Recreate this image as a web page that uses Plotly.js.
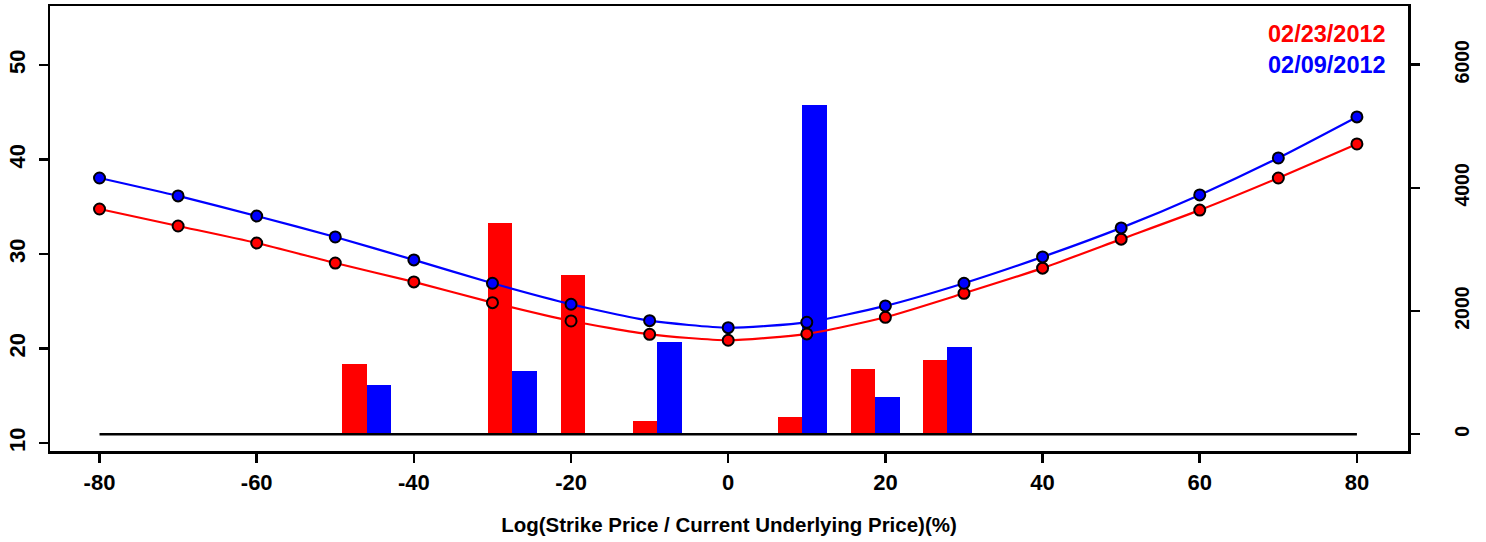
<!DOCTYPE html>
<html>
<head>
<meta charset="utf-8">
<script src="https://cdn.plot.ly/plotly-3.0.1.min.js"></script>
<style>html,body{margin:0;padding:0;background:#fff;}#chart{width:1486px;height:542px;}</style>
</head>
<body>
<div id="chart"></div>
<script>
// Implied volatility (%) by log-moneyness (%)
const strikes = [-80, -70, -60, -50, -40, -30, -20, -10, 0, 10, 20, 30, 40, 50, 60, 70, 80];
const iv0223 = [34.77, 32.97, 31.17, 29.05, 27.05, 24.86, 22.92, 21.51, 20.88, 21.55, 23.31, 25.85, 28.51, 31.58, 34.65, 38.05, 41.65];
const iv0209 = [38.05, 36.15, 34.03, 31.81, 29.38, 26.91, 24.69, 22.95, 22.21, 22.78, 24.51, 26.91, 29.70, 32.77, 36.26, 40.17, 44.51];
// Volume bars (right axis)
const volStrikes = [-46.0, -27.5, -18.2, -9.0, 9.4, 18.7, 27.9];
const vol0223 = [1139, 3431, 2582, 214, 279, 1058, 1204];
const vol0209 = [798, 1025, 0, 1495, 5340, 603, 1415];
const dateLabels = ['02/23/2012', '02/09/2012'];
const xTicks = [-80, -60, -40, -20, 0, 20, 40, 60, 80];
const yLeftTicks = [10, 20, 30, 40, 50];
const yRightTicks = [0, 2000, 4000, 6000];

const RED = '#ff0000', BLUE = '#0000ff';
const FONT = 'Liberation Sans, Arial, sans-serif';
const BW = 3.12;

const traces = [
  {type: 'bar', x: volStrikes, y: vol0223, yaxis: 'y', marker: {color: RED, line: {width: 0}},
   width: BW, offset: -BW, showlegend: false, hoverinfo: 'x+y'},
  {type: 'bar', x: volStrikes, y: vol0209, yaxis: 'y', marker: {color: BLUE, line: {width: 0}},
   width: BW, offset: 0, showlegend: false, hoverinfo: 'x+y'},
  {type: 'scatter', mode: 'lines', x: [strikes[0], strikes[strikes.length - 1]], y: [0, 0], yaxis: 'y',
   line: {color: '#000', width: 2.5}, showlegend: false, hoverinfo: 'skip'},
  {type: 'scatter', mode: 'lines+markers', x: strikes, y: iv0223, yaxis: 'y2', name: dateLabels[0],
   line: {color: RED, width: 2.2, shape: 'spline', smoothing: 0.6},
   marker: {color: RED, size: 11, line: {color: '#000', width: 2}}, showlegend: false},
  {type: 'scatter', mode: 'lines+markers', x: strikes, y: iv0209, yaxis: 'y2', name: dateLabels[1],
   line: {color: BLUE, width: 2.2, shape: 'spline', smoothing: 0.6},
   marker: {color: BLUE, size: 11, line: {color: '#000', width: 2}}, showlegend: false}
];

const axisCommon = {
  showgrid: false, zeroline: false, showline: true, linecolor: '#000', linewidth: 2.5,
  ticks: 'outside', ticklen: 9, tickwidth: 2.5, tickcolor: '#000',
  tickfont: {family: FONT, size: 22, color: '#000', weight: 'bold'}
};

const layout = {
  width: 1486, height: 542,
  margin: {l: 50, r: 78, t: 6, b: 91, pad: 0},
  paper_bgcolor: '#fff', plot_bgcolor: '#fff',
  barmode: 'overlay', bargap: 0,
  showlegend: false,
  xaxis: Object.assign({}, axisCommon, {
    range: [-86.3, 86.5], tickmode: 'array', tickvals: xTicks, ticktext: xTicks.map(String),
    mirror: true, ticklabelstandoff: 1,
    title: {text: 'Log(Strike Price / Current Underlying Price)(%)', standoff: 24,
            font: {family: FONT, size: 20.5, color: '#000', weight: 'bold'}}
  }),
  yaxis: Object.assign({}, axisCommon, {
    side: 'right', range: [-272, 6952], tickmode: 'array', tickvals: yRightTicks,
    ticktext: yRightTicks.map(String), tickangle: -90, ticklabelstandoff: 26,
    tickfont: {family: FONT, size: 19.5, color: '#000', weight: 'bold'}
  }),
  yaxis2: Object.assign({}, axisCommon, {
    side: 'left', overlaying: 'y', range: [9.16, 56.25], tickmode: 'array', tickvals: yLeftTicks,
    ticktext: yLeftTicks.map(String), tickangle: -90, ticklabelstandoff: 5
  }),
  annotations: [
    {xref: 'paper', yref: 'paper', x: 0.9855, y: 0.937, xanchor: 'right', yanchor: 'middle',
     text: dateLabels[0], showarrow: false, font: {family: FONT, size: 23.5, color: RED, weight: 'bold'}},
    {xref: 'paper', yref: 'paper', x: 0.9855, y: 0.867, xanchor: 'right', yanchor: 'middle',
     text: dateLabels[1], showarrow: false, font: {family: FONT, size: 23.5, color: BLUE, weight: 'bold'}}
  ]
};

Plotly.newPlot('chart', traces, layout, {staticPlot: true, displayModeBar: false});
</script>
</body>
</html>
